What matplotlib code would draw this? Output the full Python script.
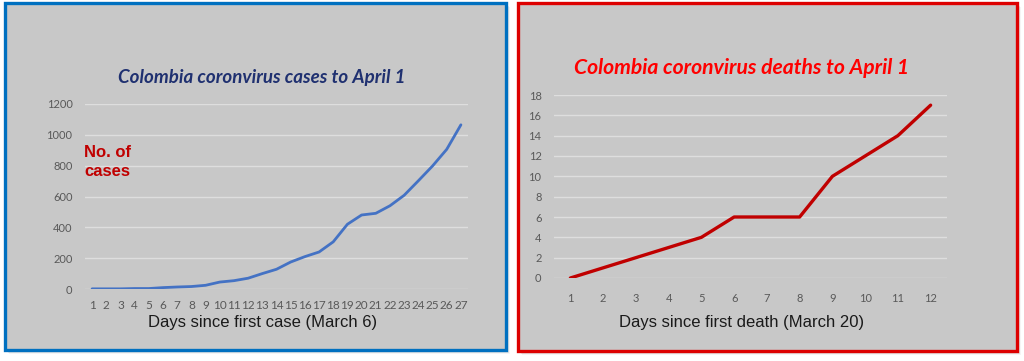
import matplotlib.pyplot as plt
from matplotlib.patches import Rectangle

# cases since first case (March 6)
case_days = list(range(1, 28))
cases = [1, 1, 1, 3, 3, 9, 13, 16, 24, 45, 54, 70, 100, 128, 175, 210,
         240, 306, 420, 480, 491, 540, 608, 702, 798, 906, 1065]

# deaths since first death (March 20)
death_days = list(range(1, 13))
deaths = [0, 1, 2, 3, 4, 6, 6, 6, 10, 12, 14, 17]

W, H = 1024, 361
BG = '#c8c8c8'
GRID = '#dedede'
TICK = '#595959'


def px(x0, y0, x1, y1):
    """pixel box (top-left origin) -> figure fraction rect"""
    return [x0 / W, (H - y1) / H, (x1 - x0) / W, (y1 - y0) / H]


def panel(fig, box, edge):
    l, b, w, h = px(*box)
    # soft shadow
    for i, a in enumerate([0.10, 0.07, 0.04]):
        off = (i + 2) / W
        fig.patches.append(Rectangle((l + off, b - (i + 2) / H), w, h,
                                     transform=fig.transFigure,
                                     facecolor='black', alpha=a,
                                     edgecolor='none', zorder=-3))
    fig.patches.append(Rectangle((l, b), w, h, transform=fig.transFigure,
                                 facecolor=BG, edgecolor=edge, lw=2.4,
                                 zorder=-1))


def style_axes(ax, days, ymax, ystep):
    ax.set_facecolor('none')
    ax.set_xlim(0.5, days[-1] + 0.5)
    ax.set_ylim(0, ymax)
    ax.set_yticks(range(0, ymax + 1, ystep))
    ax.set_xticks(days)
    ax.grid(axis='y', color=GRID, lw=1.0)
    ax.set_axisbelow(True)
    for s in ax.spines.values():
        s.set_visible(False)
    ax.tick_params(length=0, colors=TICK, labelsize=8, pad=9)
    for t in ax.get_xticklabels() + ax.get_yticklabels():
        t.set_fontfamily('Lato')


fig = plt.figure(figsize=(W / 100, H / 100), dpi=100)
fig.patch.set_facecolor('white')

panel(fig, (5, 3, 506, 350), '#0070c0')
panel(fig, (518, 3, 1017, 351), '#dd0000')

# left: cases
ax1 = fig.add_axes(px(85, 104, 468, 289))
ax1.plot(case_days, cases, color='#4472c4', lw=2.0, solid_capstyle='round')
style_axes(ax1, case_days, 1200, 200)
ax1.tick_params(axis='x', pad=8, labelsize=8.5)
fig.text(262 / W, 1 - 78 / H, 'Colombia coronvirus cases to April 1',
         ha='center', va='center', color='#1f3070', fontsize=13.5,
         fontweight='bold', fontstyle='italic', family='Lato')
fig.text(84 / W, 1 - 162 / H, 'No. of\ncases', ha='left', va='center',
         multialignment='left', color='#c00000', fontsize=12,
         fontweight='bold', family='Liberation Sans', linespacing=1.4)
fig.text(263 / W, 1 - 322 / H, 'Days since first case (March 6)',
         ha='center', va='center', color='#1a1a1a', fontsize=12,
         family='Liberation Sans')

# right: deaths
ax2 = fig.add_axes(px(554, 95, 947, 278))
ax2.plot(death_days, deaths, color='#c00000', lw=2.4, solid_capstyle='round')
style_axes(ax2, death_days, 18, 2)
ax2.tick_params(axis='x', pad=11)
fig.text(742 / W, 1 - 68 / H, 'Colombia coronvirus deaths to April 1',
         ha='center', va='center', color='#ff0000', fontsize=15.2,
         fontweight='bold', fontstyle='italic', family='Lato')
fig.text(742 / W, 1 - 322 / H, 'Days since first death (March 20)',
         ha='center', va='center', color='#1a1a1a', fontsize=12,
         family='Liberation Sans')

fig.savefig('out.png', dpi=100, facecolor='white')
